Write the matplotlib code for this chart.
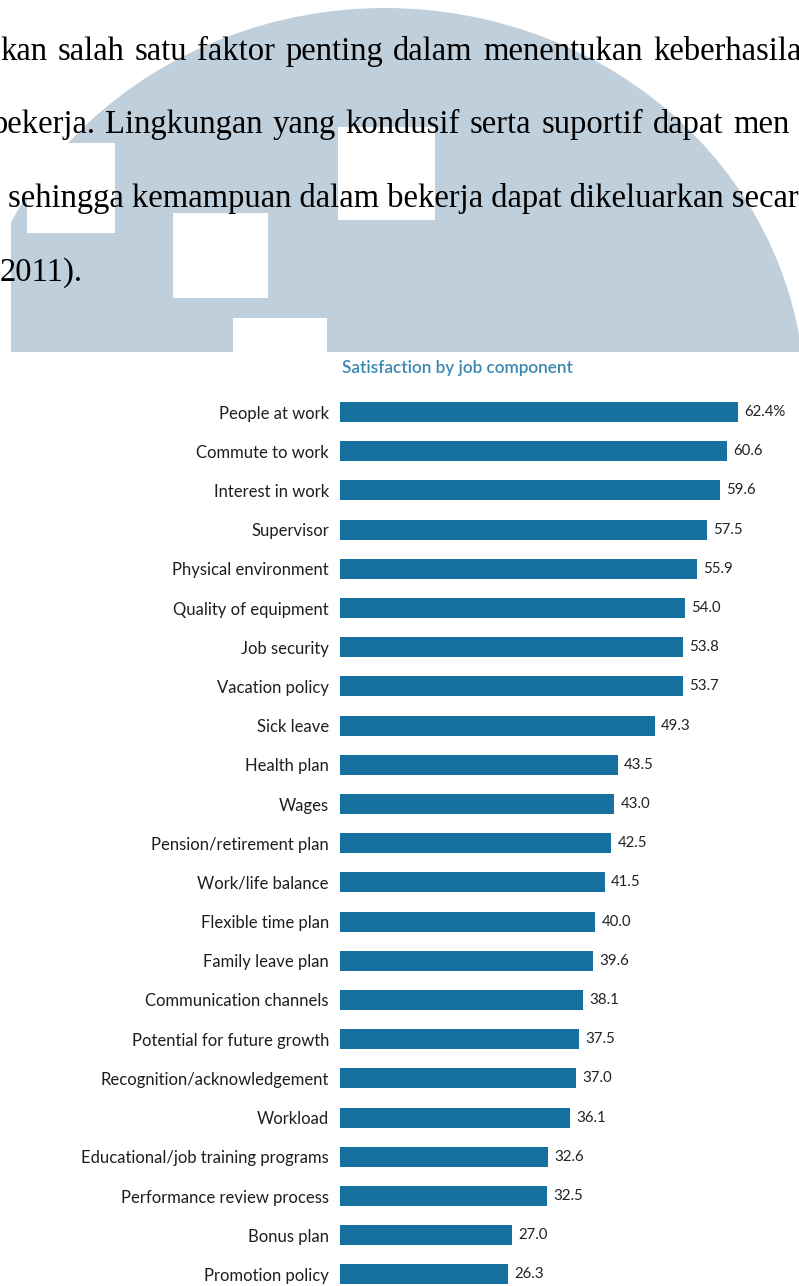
import matplotlib
matplotlib.use('Agg')
import matplotlib.pyplot as plt
from matplotlib.patches import Ellipse, Rectangle

# data
categories = ["People at work", "Commute to work", "Interest in work", "Supervisor",
              "Physical environment", "Quality of equipment", "Job security",
              "Vacation policy", "Sick leave", "Health plan", "Wages",
              "Pension/retirement plan", "Work/life balance", "Flexible time plan",
              "Family leave plan", "Communication channels", "Potential for future growth",
              "Recognition/acknowledgement", "Workload", "Educational/job training programs",
              "Performance review process", "Bonus plan", "Promotion policy"]
values = [62.4, 60.6, 59.6, 57.5, 55.9, 54.0, 53.8, 53.7, 49.3, 43.5, 43.0, 42.5,
          41.5, 40.0, 39.6, 38.1, 37.5, 37.0, 36.1, 32.6, 32.5, 27.0, 26.3]
title = "Satisfaction by job component"

# paragraph above the chart (scanned page, justified lines cut at the edges)
para_lines = [
    "kan salah satu faktor penting dalam menentukan keberhasilan",
    "bekerja. Lingkungan yang kondusif serta suportif dapat men",
    "sehingga kemampuan dalam bekerja dapat dikeluarkan secara",
    "2011).",
]
para_baselines = [60, 133, 207, 281]
# x of first word and x of last word (None = natural spacing)
para_span = [(0, 653), (-9, 733), (8, None), (0, None)]

W, H = 799, 1286
fig = plt.figure(figsize=(W / 100, H / 100), dpi=100)
renderer = fig.canvas.get_renderer()

# background layer in pixel coordinates
bg = fig.add_axes([0, 0, 1, 1])
bg.set_xlim(0, W)
bg.set_ylim(H, 0)
bg.axis('off')

wm_color = '#c0cfdc'
clip = Rectangle((11, 0), W, 352, transform=bg.transData)
dome = Ellipse((385, 401), 840, 786, facecolor=wm_color, edgecolor='none', zorder=1)
bg.add_patch(dome)
dome.set_clip_path(clip)
for (x0, y0, x1, y1) in [(27, 143, 115, 233), (338, 127, 435, 220),
                         (173, 213, 268, 298), (233, 318, 327, 352)]:
    bg.add_patch(Rectangle((x0, y0), x1 - x0, y1 - y0, facecolor='white',
                           edgecolor='none', zorder=2))

txt_kw = dict(fontsize=23.5, family='Liberation Serif', color='black',
              ha='left', va='baseline', zorder=3)
for line, yb, (xs, xl) in zip(para_lines, para_baselines, para_span):
    if xl is None:
        bg.text(xs, yb, line, **txt_kw)
        continue
    words = line.split()
    widths = []
    for w in words[:-1]:
        t = bg.text(0, 0, w, **txt_kw)
        widths.append(t.get_window_extent(renderer).width)
        t.remove()
    gap = (xl - xs - sum(widths)) / (len(words) - 1)
    x = xs
    for w, wd in zip(words[:-1], widths):
        bg.text(x, yb, w, **txt_kw)
        x += wd + gap
    bg.text(xl, yb, words[-1], **txt_kw)

bg.text(342, 368, title, fontsize=12.3, family='Lato', fontweight='semibold',
        color='#3c87af', ha='left', va='center', zorder=3)

# bar chart
left_px, right_px = 340, W
top_px, bot_px = 392.4, H
ax = fig.add_axes([left_px / W, 1 - bot_px / H, (right_px - left_px) / W,
                   (bot_px - top_px) / H])
ax.patch.set_alpha(0)
ax.set_xlim(0, (right_px - left_px) / 6.38)
y = list(range(len(categories)))
ax.set_ylim(-0.5 + (bot_px - top_px) / 39.2, -0.5)

bars = ax.barh(y, values, height=0.51, color='#1670a0', edgecolor='none')

for i, (bar, v) in enumerate(zip(bars, values)):
    lbl = f'{v:.1f}%' if i == 0 else f'{v:.1f}'
    ax.annotate(lbl, (bar.get_width(), bar.get_y() + bar.get_height() / 2),
                textcoords='offset points', xytext=(4.5, 0), ha='left', va='center',
                fontsize=10.8, family='Lato', color='#222222')

ax.set_yticks(y)
ax.set_yticklabels(categories, fontsize=12, family='Lato', color='#1e1e1e')
ax.tick_params(axis='y', length=0, pad=8)
ax.set_xticks([])
for s in ax.spines.values():
    s.set_visible(False)

fig.savefig('out.png', dpi=100)
